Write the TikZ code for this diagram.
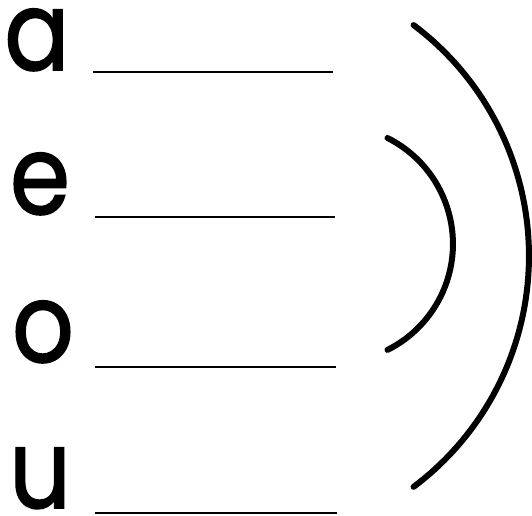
\documentclass[tikz,border=0pt]{standalone}
\usepackage{fontspec}
\setmainfont{Poppins}
\newfontfamily\letterfont{Poppins}[FakeBold=1.5]
\newcommand{\narrowletter}[1]{\scalebox{0.88}[1]{#1}}
\begin{document}
\begin{tikzpicture}[x=1pt,y=1pt,
  letter/.style={inner sep=0pt, anchor=base, font=\letterfont\fontsize{110}{110}\selectfont},
  blank/.style={line width=2pt},
  bracket/.style={line width=6pt, line cap=round}]
\useasboundingbox (0,0) rectangle (532,515);
\node[letter] (a) at (37,445) {\narrowletter{a}};
\node[letter] (e) at (40,301) {\narrowletter{e}};
\node[letter] (o) at (43,153) {\narrowletter{o}};
\node[letter] (u) at (40,7) {\narrowletter{u}};
\coordinate (l1s) at (93,443); \coordinate (l1e) at (333,443);
\coordinate (l2s) at (95,298); \coordinate (l2e) at (335,298);
\coordinate (l3s) at (95,148); \coordinate (l3e) at (336,148);
\coordinate (l4s) at (95,2);   \coordinate (l4e) at (337,2);
\draw[blank] (l1s) -- (l1e);
\draw[blank] (l2s) -- (l2e);
\draw[blank] (l3s) -- (l3e);
\draw[blank] (l4s) -- (l4e);
\draw[bracket] (413.6,489.9) arc[start angle=53.1, end angle=-53.1, radius=288.7pt];
\draw[bracket] (387.5,377) arc[start angle=63.4, end angle=-63.4, radius=118.5pt];
\end{tikzpicture}
\end{document}
